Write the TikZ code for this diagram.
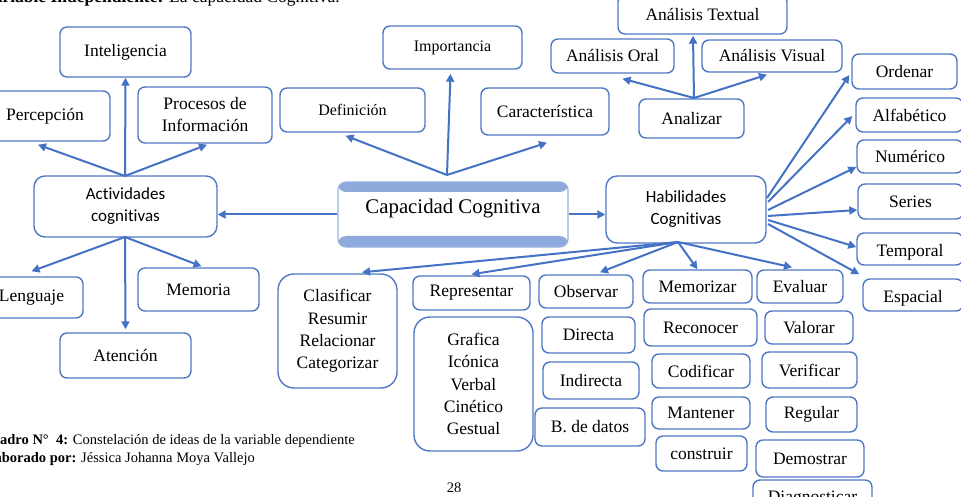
\documentclass[tikz,border=0pt]{standalone}
\usepackage{fontspec}
\setmainfont{Liberation Serif}
\newfontfamily\calib[Ligatures={NoCommon}]{Carlito}
\usetikzlibrary{arrows.meta,calc}
\definecolor{lineblue}{HTML}{4472C4}
\definecolor{boxblue}{HTML}{4F78C4}
\definecolor{capband}{HTML}{8EA9DB}
\definecolor{capborder}{HTML}{9AB1DE}
\newcommand{\fsz}[2]{\fontsize{#1}{#2}\selectfont}
\newcommand{\bx}[6]{\node[#1, minimum width=#4pt, minimum height=#5pt] (#2) at (#3) {#6};}
\begin{document}
\begin{tikzpicture}[x=1pt,y=-1pt,
 box/.style={draw=boxblue, line width=1.4pt, rounded corners=7pt, fill=white, inner sep=0pt, align=center, font=\fsz{17.5}{22}},
 bigbox/.style={box, rounded corners=16pt, font=\fsz{17.5}{22.3}},
 sansbox/.style={box, rounded corners=11pt, font=\calib\fsz{17}{22}},
 smallbox/.style={box, font=\fsz{16}{20}},
 capbox/.style={draw=capborder, line width=1.2pt, rounded corners=8pt, fill=white, inner sep=0pt, font=\fsz{20.8}{25},
   path picture={\fill[capband] (path picture bounding box.north west) rectangle ([yshift=-10pt]path picture bounding box.north east);
                 \fill[capband] (path picture bounding box.south west) rectangle ([yshift=11pt]path picture bounding box.south east);}},
 arr/.style={draw=lineblue, line width=2pt, -{Triangle[length=8pt,width=8pt]}},
 txt/.style={inner sep=0pt},
]
\useasboundingbox (0,0) rectangle (961,497);
\clip (0,0) rectangle (961,497);

% header and caption
\node[txt, anchor=base east, font=\fsz{17.5}{21}] (head) at (340,2.5) {{\bfseries Variable Independiente:} La capacidad Cognitiva.};
\node[txt, anchor=base east, font=\fsz{14.5}{17}] (cap1) at (355,444) {{\bfseries Cuadro N°\ \ 4:} Constelación de ideas de la variable dependiente};
\node[txt, anchor=base east, font=\fsz{14.5}{17}] (cap2) at (255,462) {{\bfseries Elaborado por:} Jéssica Johanna Moya Vallejo};
\node[txt, font=\fsz{14.5}{17}] (pnum) at (454,488) {28};

% left cluster
\bx{box}{intel}{125.5,52}{131}{50}{Inteligencia}
\bx{box}{perc}{45,116}{130}{50}{Percepción}
\bx{box}{proc}{205,115}{134}{56}{Procesos de\\Información}
\bx{sansbox}{acti}{125.5,206.5}{183}{61}{Actividades\\cognitivas}
\bx{box}{leng}{31.5,297.5}{103}{41}{Lenguaje}
\bx{box}{memo}{198.5,289.5}{121}{43}{Memoria}
\bx{box}{aten}{125.5,355.5}{131}{45}{Atención}

% centre
\bx{smallbox}{defi}{352.5,110}{145}{44}{Definición}
\bx{smallbox}{impo}{452.5,47.5}{139}{43}{Importancia}
\bx{box}{cara}{545,111.5}{128}{47}{Característica}
\node[capbox, minimum width=230pt, minimum height=65pt] (capa) at (453,214.5) {\raisebox{6pt}[\height][\depth]{Capacidad Cognitiva}};

% analizar cluster
\bx{box}{atex}{702.5,14.5}{169}{39}{Análisis Textual}
\bx{box}{aora}{612.5,56}{123}{34}{Análisis Oral}
\bx{box}{avis}{772,56}{140}{32}{Análisis Visual}
\bx{box}{anal}{691.5,118.5}{105}{39}{Analizar}

% right column
\bx{box}{orde}{904.5,71.5}{105}{35}{Ordenar}
\bx{box}{alfa}{909.5,115}{107}{34}{Alfabético}
\bx{box}{nume}{910,156.5}{106}{33}{Numérico}
\bx{box}{seri}{910.5,201.5}{105}{35}{Series}
\node[box, minimum width=106pt, minimum height=32pt] (temp) at (910,249) {\raisebox{-3pt}[\height][\depth]{Temporal}};
\node[box, minimum width=100pt, minimum height=32pt] (espa) at (913,295) {\raisebox{-3pt}[\height][\depth]{Espacial}};

% habilidades
\bx{sansbox}{habi}{686,209.5}{160}{67}{Habilidades\\Cognitivas}

% bottom cluster
\bx{bigbox}{clas}{337.5,331}{119}{114}{Clasificar\\Resumir\\Relacionar\\Categorizar}
\bx{box}{repr}{471.5,293}{117}{34}{Representar}
\bx{bigbox}{graf}{473.5,384}{119}{134}{Grafica\\Icónica\\Verbal\\Cinético\\Gestual}
\bx{box}{obse}{586,291.5}{94}{33}{Observar}
\bx{box}{dire}{588.5,335}{93}{36}{Directa}
\bx{box}{indi}{591,380.5}{96}{37}{Indirecta}
\bx{box}{bdat}{590,427}{110}{38}{B. de datos}
\bx{box}{memz}{697.5,286.5}{109}{33}{Memorizar}
\bx{box}{reco}{700.5,327.5}{113}{37}{Reconocer}
\bx{box}{codi}{701,371}{98}{34}{Codificar}
\bx{box}{mant}{701,413}{98}{32}{Mantener}
\bx{box}{cons}{701.5,453.5}{91}{35}{construir}
\bx{box}{eval}{800,286.5}{86}{33}{Evaluar}
\bx{box}{valo}{809,327.5}{88}{33}{Valorar}
\bx{box}{veri}{809.5,370}{95}{36}{Verificar}
\bx{box}{regu}{811.5,414.5}{91}{35}{Regular}
\bx{box}{demo}{810,458.5}{108}{37}{Demostrar}
\bx{box}{diag}{812.5,499}{119}{38}{Diagnosticar}

% branch points
\coordinate (actT) at (125,176);
\coordinate (actB) at (125,237);
\coordinate (capT) at (447,175);
\coordinate (anaT) at (694,98);
\coordinate (habB) at (678,242);
\coordinate (hr1) at (767,198);
\coordinate (hr2) at (768,202);
\coordinate (hr3) at (768,210);
\coordinate (hr4) at (768,216);
\coordinate (hr5) at (768,220);
\coordinate (hr6) at (768,224);

% connectors
\draw[arr] (actT) -- (intel.south);
\draw[arr] (actT) -- ($(perc.south)+(-7,3)$);
\draw[arr] (actT) -- ($(proc.south)+(2,1)$);
\draw[arr] (actB) -- ($(leng.north)+(0,-5)$);
\draw[arr] (actB) -- ($(memo.north)+(3,-1)$);
\draw[arr] (actB) -- ($(aten.north)+(0,-3)$);
\draw[arr] (capa.west) -- (capa.west -| acti.east);
\draw[arr] (capT) -- ($(defi.south)+(-7,3)$);
\draw[arr] (capT) -- ($(impo.south)+(-2,4)$);
\draw[arr] (capT) -- ($(cara.south)+(2,7)$);
\draw[arr] (capa.east) -- (capa.east -| habi.west);
\draw[arr] (anaT) -- ($(atex.south)+(-9.5,1)$);
\draw[arr] (anaT) -- ($(aora.south)+(10,5)$);
\draw[arr] (anaT) -- ($(avis.south)+(-5,2)$);
\draw[arr] (habB) -- ($(clas.north)+(24.5,-1)$);
\draw[arr] (habB) -- ($(repr.north)+(0,-1)$);
\draw[arr] (habB) -- ($(obse.north)+(14,-2)$);
\draw[arr] (habB) -- (memz.north);
\draw[arr] (habB) -- ($(eval.north)+(-8,-2)$);
\draw[arr] (hr1) -- ($(orde.west)+(-2,3.5)$);
\draw[arr] (hr2) -- ($(alfa.west)+(-3,1)$);
\draw[arr] (hr3) -- ($(nume.west)+(0,10.5)$);
\draw[arr] (hr4) -- ($(seri.west)+(0,8.5)$);
\draw[arr] (hr5) -- ($(temp.west)+(0,-2)$);
\draw[arr] (hr6) -- ($(espa.north west)+(-3,-4)$);
\end{tikzpicture}
\end{document}
